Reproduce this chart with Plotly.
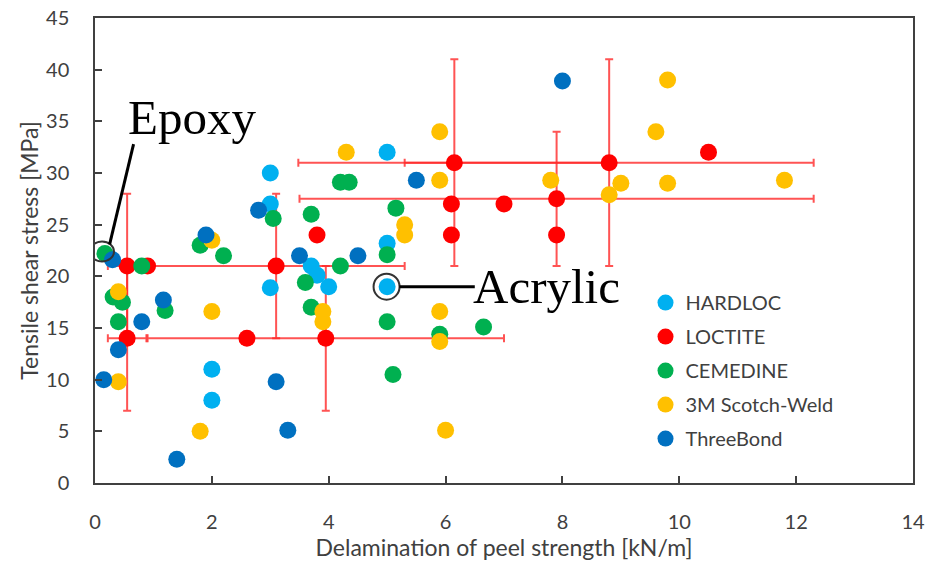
import plotly.graph_objects as go

# ---------------- data ----------------
series_names = ["HARDLOC", "LOCTITE", "CEMEDINE", "3M Scotch-Weld", "ThreeBond"]
series_colors = ["#00B0F0", "#FF0000", "#00B050", "#FFC000", "#0070C0"]

hardloc_x = [3.0, 3.0, 3.0, 2.0, 2.0, 3.7, 3.8, 4.0, 5.0, 5.0, 5.0]
hardloc_y = [30.0, 27.0, 18.9, 11.0, 8.0, 21.0, 20.1, 19.0, 23.2, 19.0, 32.0]

# LOCTITE points with error bars
loctite_err_x = [0.55, 0.55, 3.1, 3.95, 6.15, 8.8, 7.9]
loctite_err_y = [21.0, 14.0, 21.0, 14.0, 31.0, 31.0, 27.5]
loctite_err_dx = [0.33, 0.33, 2.2, 3.05, 2.67, 3.5, 4.4]
loctite_err_dy = [7.0, 7.0, 7.0, 7.0, 10.0, 10.0, 6.5]
# LOCTITE points without error bars
loctite_x = [0.9, 2.6, 3.8, 6.1, 6.1, 7.0, 7.9, 10.5]
loctite_y = [21.0, 14.0, 24.0, 27.0, 24.0, 27.0, 24.0, 32.0]

cemedine_x = [0.17, 0.8, 0.31, 0.47, 1.2, 0.4, 1.8, 2.2, 3.05, 3.7, 4.2, 4.35,
              5.15, 5.0, 4.2, 3.6, 3.7, 5.0, 5.9, 6.65, 5.1]
cemedine_y = [22.2, 21.0, 18.0, 17.5, 16.7, 15.6, 23.0, 22.0, 25.6, 26.0, 29.1, 29.1,
              26.6, 22.1, 21.0, 19.4, 17.0, 15.6, 14.4, 15.1, 10.5]

scotch_x = [0.4, 2.0, 2.0, 0.4, 1.8, 3.9, 3.9, 4.3, 5.3, 5.3, 5.9, 5.9, 5.9, 5.9,
            6.0, 7.8, 8.8, 9.0, 9.6, 9.8, 9.8, 11.8]
scotch_y = [18.5, 23.5, 16.6, 9.8, 5.0, 16.6, 15.6, 32.0, 25.0, 24.0, 34.0, 29.3, 16.6, 13.7,
            5.1, 29.3, 27.9, 29.0, 34.0, 39.0, 29.0, 29.3]

threebond_x = [0.15, 0.4, 0.3, 0.8, 1.17, 1.4, 1.9, 2.8, 3.1, 3.3, 3.5, 4.5, 5.5, 8.0]
threebond_y = [10.0, 12.9, 21.6, 15.6, 17.7, 2.3, 24.0, 26.4, 9.8, 5.1, 22.0, 22.0, 29.3, 38.9]

x_ticks = [0, 2, 4, 6, 8, 10, 12, 14]
y_ticks = [0, 5, 10, 15, 20, 25, 30, 35, 40, 45]

epoxy_point = (0.12, 22.4)
acrylic_point = (4.99, 19.0)

# ---------------- figure ----------------
MS = 17
fig = go.Figure()

# error-bar trace first so its bars sit below all markers
fig.add_trace(go.Scatter(
    x=loctite_err_x, y=loctite_err_y, mode="markers",
    marker=dict(size=MS, color=series_colors[1], line=dict(width=0)),
    error_x=dict(type="data", array=loctite_err_dx, color="rgba(255,40,40,0.8)",
                 thickness=2, width=4),
    error_y=dict(type="data", array=loctite_err_dy, color="rgba(255,40,40,0.8)",
                 thickness=2, width=4),
    showlegend=False, hoverinfo="x+y", name="LOCTITE",
))

all_x = [hardloc_x, loctite_x, cemedine_x, scotch_x, threebond_x]
all_y = [hardloc_y, loctite_y, cemedine_y, scotch_y, threebond_y]
for name, color, xs, ys in zip(series_names, series_colors, all_x, all_y):
    fig.add_trace(go.Scatter(
        x=xs, y=ys, mode="markers", name=name, legendgroup=name,
        marker=dict(size=MS, color=color, line=dict(width=0)),
    ))

FAM = "Lato, Open Sans, sans-serif"
tick_font = dict(family=FAM, size=20, color="#404040")
title_font = dict(family=FAM, size=23, color="#404040")
axis_common = dict(
    showgrid=False, zeroline=False, showline=True, linecolor="#404040", linewidth=1.5,
    mirror=True, ticks="inside", ticklen=7, tickwidth=1.5, tickcolor="#404040",
    tickfont=tick_font, automargin=False,
)

fig.update_layout(
    width=927, height=570,
    margin=dict(l=95, r=14, t=18, b=87),
    paper_bgcolor="white", plot_bgcolor="white",
    font=tick_font,
    xaxis=dict(range=[0, 14], tickvals=x_ticks, ticklabelstandoff=20,
               title=dict(text="Delamination of peel strength [kN/m]", font=title_font, standoff=6),
               **axis_common),
    yaxis=dict(range=[0, 45], tickvals=y_ticks, ticklabelstandoff=20,
               title=dict(text="Tensile shear stress [MPa]", font=title_font, standoff=1),
               **axis_common),
    legend=dict(x=0.673, y=0.43, xanchor="left", yanchor="top",
                font=dict(family=FAM, size=20, color="#404040"),
                tracegroupgap=5, bgcolor="rgba(0,0,0,0)"),
    showlegend=True,
)

# annotation circles
fig.add_shape(type="circle", xref="x", yref="y", xsizemode="pixel", ysizemode="pixel",
              xanchor=epoxy_point[0], yanchor=epoxy_point[1], x0=-12, x1=12, y0=-10, y1=10,
              line=dict(color="#333333", width=2))
fig.add_shape(type="circle", xref="x", yref="y", xsizemode="pixel", ysizemode="pixel",
              xanchor=acrylic_point[0], yanchor=acrylic_point[1], x0=-13, x1=13, y0=-13, y1=13,
              line=dict(color="#333333", width=2))
# leader lines
fig.add_shape(type="line", xref="x", yref="y", x0=0.25, y0=23.1, x1=0.66, y1=32.8,
              line=dict(color="black", width=3))
fig.add_shape(type="line", xref="x", yref="y", x0=5.21, y0=19.0, x1=6.5, y1=19.0,
              line=dict(color="black", width=3))

serif = dict(family="Liberation Serif, Times New Roman, serif", size=49, color="black")
fig.add_annotation(x=1.66, y=35.4, xref="x", yref="y", text="Epoxy", showarrow=False,
                   font=serif, xanchor="center", yanchor="middle")
fig.add_annotation(x=7.72, y=19.0, xref="x", yref="y", text="Acrylic", showarrow=False,
                   font=serif, xanchor="center", yanchor="middle")

fig.write_html("out.html")
